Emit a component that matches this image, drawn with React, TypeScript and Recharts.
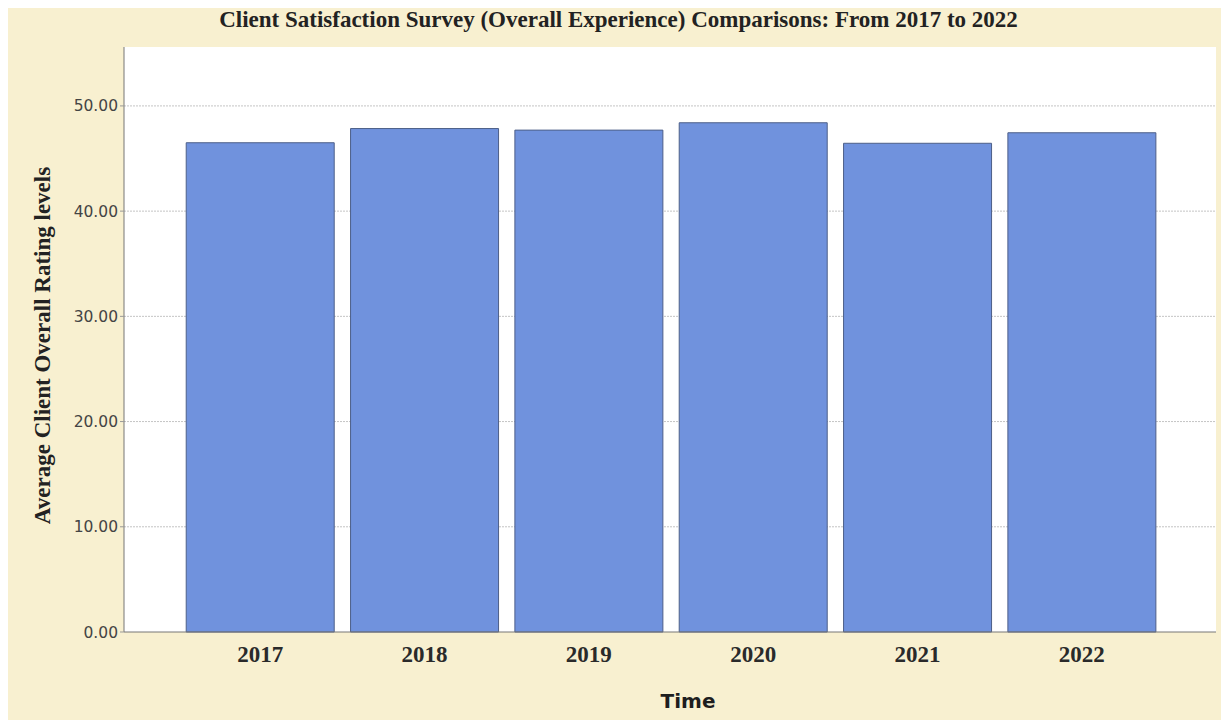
import { BarChart, Bar, XAxis, YAxis, CartesianGrid } from 'recharts';

const years = ['2017', '2018', '2019', '2020', '2021', '2022'];
const ratings = [46.5, 47.85, 47.7, 48.4, 46.45, 47.45];
const yTicks = [0, 10, 20, 30, 40, 50];

const data = years.map((year, i) => ({ year, rating: ratings[i] }));

const serif = '"Liberation Serif", "Times New Roman", serif';
const sans = '"DejaVu Sans", Verdana, sans-serif';

export default function App() {
  return (
    <div style={{ position: 'relative', width: 1213, height: 712, background: '#f8f0d0' }}>
      <div
        style={{
          position: 'absolute',
          top: -1,
          left: 0,
          width: 1221,
          textAlign: 'center',
          fontFamily: serif,
          fontWeight: 'bold',
          fontSize: 23,
          color: '#222',
        }}
      >
        Client Satisfaction Survey (Overall Experience) Comparisons: From 2017 to 2022
      </div>
      <BarChart width={1213} height={712} data={data} margin={{ top: 39, right: 5, left: 0, bottom: 8 }} barCategoryGap="5%">
        {/* white plot area, then dotted grid lines on top of it */}
        <CartesianGrid horizontal={false} vertical={false} fill="#ffffff" stroke="none" />
        <CartesianGrid vertical={false} horizontalValues={[10, 20, 30, 40, 50]} stroke="#c4c4c4" strokeDasharray="2 1" />
        <XAxis
          dataKey="year"
          height={80}
          padding={{ left: 54, right: 52 }}
          tickLine={false}
          axisLine={{ stroke: '#777' }}
          tick={{ fill: '#2a2a2a', fontSize: 23, fontFamily: serif, fontWeight: 'bold' }}
          tickMargin={8}
          label={({ viewBox }: any) => (
            <text
              x={viewBox.x + viewBox.width / 2 + 18}
              y={viewBox.y + 76}
              textAnchor="middle"
              fontFamily={sans}
              fontWeight="bold"
              fontSize={20}
              fill="#1e1e1e"
            >
              Time
            </text>
          )}
        />
        <YAxis
          width={116}
          domain={[0, 55.6]}
          ticks={yTicks}
          tickFormatter={(v: number) => v.toFixed(2)}
          tickSize={4}
          tickLine={{ stroke: '#999' }}
          axisLine={{ stroke: '#777' }}
          tick={{ fill: '#444', fontSize: 15.5, fontFamily: sans }}
          label={({ viewBox }: any) => {
            const cx = viewBox.x + 34;
            const cy = viewBox.y + viewBox.height / 2 + 6;
            return (
              <text
                x={cx}
                y={cy}
                transform={`rotate(-90, ${cx}, ${cy})`}
                textAnchor="middle"
                dominantBaseline="central"
                fontFamily={serif}
                fontWeight="bold"
                fontSize={23}
                fill="#222"
              >
                Average Client Overall Rating levels
              </text>
            );
          }}
        />
        <Bar dataKey="rating" fill="#7092dd" stroke="#4d5f88" strokeWidth={1} isAnimationActive={false} />
      </BarChart>
    </div>
  );
}
